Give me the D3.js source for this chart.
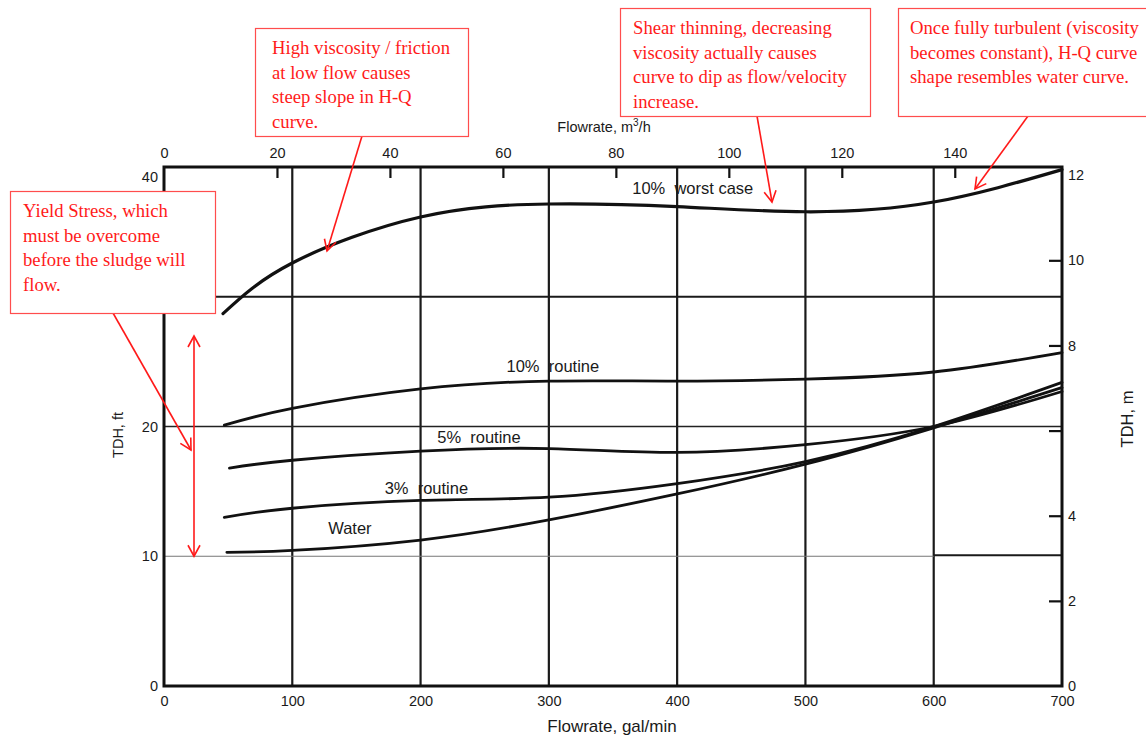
<!DOCTYPE html>
<html lang="en">
<head>
<meta charset="UTF-8">
<title>H-Q curves for sludge</title>
<script src="https://cdn.jsdelivr.net/npm/d3@7"></script>
<style>
  body { margin: 0; background: #fff; }
  svg { display: block; }
  .tick-lbl, .ax-title, .curve-lbl { font-family: "Liberation Sans", Arial, sans-serif; fill: #1a1a1a; }
  .note { font-family: "Liberation Serif", "Times New Roman", serif; font-size: 18.7px; fill: #ff1a1a; }
  .curve { fill: none; stroke: #111; stroke-linecap: round; }
</style>
</head>
<body>
<div id="chart"></div>
<script>

// flowrate in gal/min, head (TDH) in ft
var water    = [[49,10.3],[100,10.45],[200,11.25],[300,12.8],[400,14.8],[500,17.1],[600,19.9],[700,23.0]];
var pct3     = [[47,13.0],[100,13.7],[200,14.3],[300,14.55],[400,15.6],[500,17.3],[600,20.0],[700,23.4]];
var pct5     = [[51,16.8],[100,17.4],[200,18.1],[300,18.3],[400,18.0],[500,18.6],[600,20.0],[700,22.7]];
var pct10    = [[47,20.1],[100,21.4],[200,22.9],[300,23.5],[400,23.5],[500,23.65],[600,24.2],[700,25.7]];
var worst10  = [[46,28.7],[100,32.6],[200,36.15],[300,37.15],[400,36.95],[500,36.55],[600,37.3],[700,39.8]];

var curveNames = ["Water", "3%  routine", "5%  routine", "10%  routine", "10%  worst case"];

var gpmTicks = [0, 100, 200, 300, 400, 500, 600, 700];
var ftTicks = [0, 10, 20, 40];
var m3hTicks = [0, 20, 40, 60, 80, 100, 120, 140];
var mTicks = [0, 2, 4, 6, 8, 10, 12];
var mTickLabels = ["0", "2", "4", "", "8", "10", "12"];

var notes = [
  ["High viscosity / friction", "at low flow causes", "steep slope in H-Q", "curve."],
  ["Shear thinning, decreasing", "viscosity actually causes", "curve to dip as flow/velocity", "increase."],
  ["Once fully turbulent (viscosity", "becomes constant), H-Q curve", "shape resembles water curve."],
  ["Yield Stress, which", "must be overcome", "before the sludge will", "flow."]
];

var W = 1146, H = 737;
var pL = 164, pR = 1062, pT = 167, pB = 686;

var svg = d3.select("#chart").append("svg")
    .attr("width", W)
    .attr("height", H);

var x = d3.scaleLinear().domain([0, 700]).range([pL, pR]);
var y = d3.scaleLinear().domain([0, 40]).range([pB, pT]);
var xm = d3.scaleLinear().domain([0, 700 / 4.4029]).range([pL, pR]);   // m3/h
var ym = d3.scaleLinear().domain([0, 40 / 3.2808]).range([pB, pT]);    // m

// grid
var grid = svg.append("g");
grid.selectAll("line.v")
  .data([100, 200, 300, 400, 500, 600])
  .enter().append("line")
    .attr("x1", d => x(d)).attr("x2", d => x(d))
    .attr("y1", pT).attr("y2", pB)
    .attr("stroke", "#1a1a1a").attr("stroke-width", 2.2);

grid.append("line")
    .attr("x1", x(0)).attr("x2", x(700)).attr("y1", y(30)).attr("y2", y(30))
    .attr("stroke", "#1a1a1a").attr("stroke-width", 2.2);
grid.append("line")
    .attr("x1", x(0)).attr("x2", x(700)).attr("y1", y(20)).attr("y2", y(20))
    .attr("stroke", "#222").attr("stroke-width", 1.6);
grid.append("line")
    .attr("x1", x(0)).attr("x2", x(600)).attr("y1", y(10)).attr("y2", y(10))
    .attr("stroke", "#777").attr("stroke-width", 1);
grid.append("line")
    .attr("x1", x(600)).attr("x2", x(700)).attr("y1", y(10) - 1).attr("y2", y(10) - 1)
    .attr("stroke", "#1a1a1a").attr("stroke-width", 2);

// frame
svg.append("rect")
    .attr("x", pL).attr("y", pT)
    .attr("width", pR - pL).attr("height", pB - pT)
    .attr("fill", "none").attr("stroke", "#111").attr("stroke-width", 3);

// bottom axis (gal/min)
var ax = svg.append("g").attr("transform", "translate(0," + pB + ")")
    .call(d3.axisBottom(x).tickValues(gpmTicks).tickSize(0).tickPadding(7));
// left axis (ft)
var ay = svg.append("g").attr("transform", "translate(" + pL + ",0)")
    .call(d3.axisLeft(y).tickValues(ftTicks).tickSize(0).tickPadding(6));
// top axis (m3/h), ticks point into the plot
var axm = svg.append("g").attr("transform", "translate(0," + pT + ")")
    .call(d3.axisTop(xm).tickValues(m3hTicks).tickSize(-11).tickPadding(9));
// right axis (m), ticks point into the plot
var aym = svg.append("g").attr("transform", "translate(" + pR + ",0)")
    .call(d3.axisRight(ym).tickValues(mTicks).tickSize(-13).tickPadding(6)
      .tickFormat((d, i) => mTickLabels[i]));

[ax, ay, axm, aym].forEach(function(g) {
  g.select(".domain").remove();
  g.selectAll("text").attr("class", "tick-lbl").attr("font-size", 14.5)
    .attr("font-family", null).attr("fill", null);
  g.selectAll("line").attr("stroke", "#111").attr("stroke-width", 2.2);
});
axm.selectAll(".tick").filter(d => d === 0).select("line").remove();
aym.selectAll(".tick").filter(d => d === 0 || d === 12).select("line").remove();
ay.selectAll(".tick").filter(d => d === 40).select("text").attr("dy", "1.0em");
ax.selectAll("text").attr("dy", "0.9em");

// axis titles
svg.append("text").attr("class", "ax-title").attr("font-size", 14.5)
    .attr("x", 604).attr("y", 132).attr("text-anchor", "middle")
    .html("Flowrate, m<tspan dy='-6' font-size='10'>3</tspan><tspan dy='6'>/h</tspan>");
svg.append("text").attr("class", "ax-title").attr("font-size", 17)
    .attr("x", 612).attr("y", 732).attr("text-anchor", "middle")
    .text("Flowrate, gal/min");
svg.append("text").attr("class", "ax-title").attr("font-size", 14.5)
    .attr("transform", "translate(123,435) rotate(-90)").attr("text-anchor", "middle")
    .text("TDH, ft");
svg.append("text").attr("class", "ax-title").attr("font-size", 16.5)
    .attr("transform", "translate(1133,419) rotate(-90)").attr("text-anchor", "middle")
    .text("TDH, m");

// curves
var line = d3.line()
    .x(d => x(d[0]))
    .y(d => y(d[1]))
    .curve(d3.curveNatural);

var series = [water, pct3, pct5, pct10, worst10];
svg.append("g").selectAll("path")
  .data(series)
  .enter().append("path")
    .attr("class", "curve")
    .attr("stroke-width", (d, i) => i === 4 ? 3.2 : 2.8)
    .attr("d", line);

// curve labels, anchored in data units
var labelAt = [[128, 11.7], [172, 14.8], [213, 18.7], [267, 24.2], [365, 37.9]];
svg.append("g").selectAll("text")
  .data(curveNames)
  .enter().append("text")
    .attr("class", "curve-lbl")
    .attr("font-size", 16.5)
    .style("white-space", "pre")
    .attr("x", (d, i) => x(labelAt[i][0]))
    .attr("y", (d, i) => y(labelAt[i][1]))
    .text(d => d);

// annotations
var red = "#ff1a1a";
var defs = svg.append("defs");
defs.append("marker")
    .attr("id", "head")
    .attr("viewBox", "-12 -7 14 14")
    .attr("refX", 0).attr("refY", 0)
    .attr("markerWidth", 14).attr("markerHeight", 14)
    .attr("markerUnits", "userSpaceOnUse")
    .attr("orient", "auto-start-reverse")
  .append("path")
    .attr("d", "M-11,-6 L0,0 L-11,6")
    .attr("fill", "none").attr("stroke", red).attr("stroke-width", 1.6);

var boxes = [
  {x: 255, y: 28, w: 213, h: 108, tx: 272, ty: 54},
  {x: 620, y: 8, w: 250, h: 108, tx: 633, ty: 34},
  {x: 898, y: 8, w: 260, h: 108, tx: 910, ty: 34},
  {x: 10, y: 191, w: 205, h: 122, tx: 23, ty: 217}
];

var arrows = [
  [362, 136, 327, 251],
  [757, 116, 772, 202],
  [1028, 116, 975, 189],
  [113, 313, 191, 450]
];

svg.append("g").selectAll("line")
  .data(arrows)
  .enter().append("line")
    .attr("x1", d => d[0]).attr("y1", d => d[1])
    .attr("x2", d => d[2]).attr("y2", d => d[3])
    .attr("stroke", red).attr("stroke-width", 1.6)
    .attr("marker-end", "url(#head)");

// yield stress span
svg.append("line")
    .attr("x1", 194).attr("x2", 194)
    .attr("y1", 336).attr("y2", y(10))
    .attr("stroke", red).attr("stroke-width", 1.6)
    .attr("marker-start", "url(#head)")
    .attr("marker-end", "url(#head)");

var nb = svg.append("g").selectAll("g")
  .data(boxes)
  .enter().append("g");
nb.append("rect")
    .attr("x", d => d.x + 0.5).attr("y", d => d.y + 0.5)
    .attr("width", d => d.w).attr("height", d => d.h)
    .attr("fill", "#fff").attr("stroke", "#ff4d4d").attr("stroke-width", 1.2);
nb.append("text")
    .attr("class", "note")
    .selectAll("tspan")
    .data((d, i) => notes[i].map(t => ({t: t, b: d})))
    .enter().append("tspan")
      .attr("x", d => d.b.tx)
      .attr("y", (d, j) => d.b.ty + j * 24.7)
      .text(d => d.t);

</script>
</body>
</html>
